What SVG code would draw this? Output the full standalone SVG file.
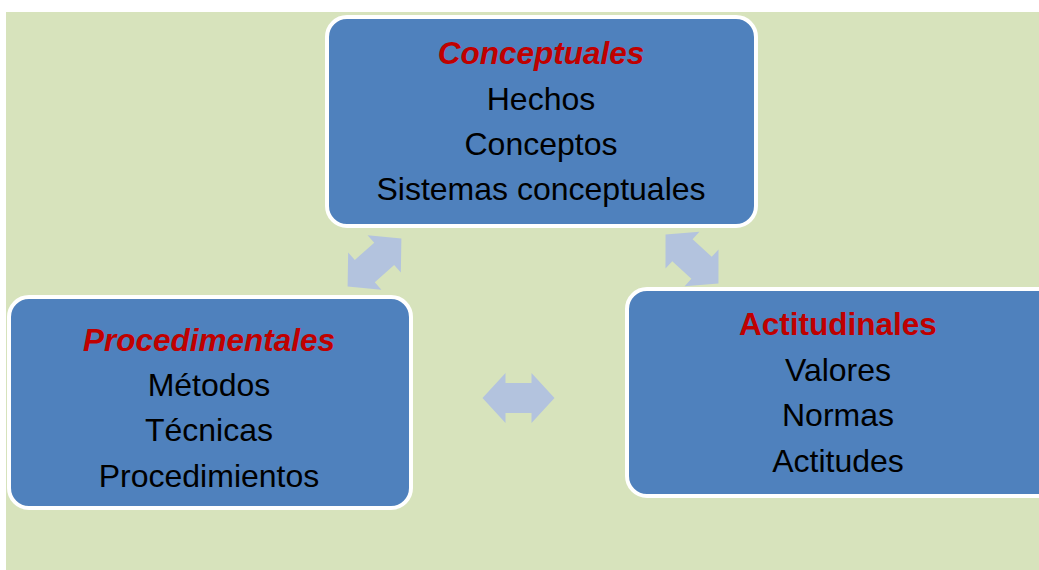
<svg xmlns="http://www.w3.org/2000/svg" width="1039" height="570" viewBox="0 0 1039 570">
<style>
.box{fill:#4F81BD;stroke:#FFFFFF;stroke-width:4}
.arr{fill:#B3C3DE}
.t{font-family:"Liberation Sans",Arial,sans-serif;font-size:32px;fill:#000;text-anchor:middle}
.h{font-family:"Liberation Sans",Arial,sans-serif;font-size:31.5px;font-weight:bold;fill:#C00000;text-anchor:middle}
.i{font-style:italic}
</style>
<defs>
<path id="dbl" d="M-36,0 L-13,-25 L-13,-15 L13,-15 L13,-25 L36,0 L13,25 L13,15 L-13,15 L-13,25 Z"/>
</defs>
<rect x="0" y="0" width="1039" height="570" fill="#FFFFFF"/>
<rect x="6" y="12" width="1033" height="558" fill="#D7E3BC"/>
<g id="connectors">
<use href="#dbl" class="arr" transform="translate(374.5,262.5) rotate(-41.7)"/>
<use href="#dbl" class="arr" transform="translate(692,259) rotate(42.7)"/>
<use href="#dbl" class="arr" transform="translate(518.5,398)"/>
</g>
<g id="conceptuales">
<rect class="box" x="327" y="17" width="429" height="209" rx="20"/>
<text class="h i" x="541" y="64">Conceptuales</text>
<text class="t" x="541" y="110">Hechos</text>
<text class="t" x="541" y="155">Conceptos</text>
<text class="t" x="541" y="200">Sistemas conceptuales</text>
</g>
<g id="procedimentales">
<rect class="box" x="9" y="297" width="402" height="211" rx="20"/>
<text class="h i" x="209" y="351">Procedimentales</text>
<text class="t" x="209" y="396">Métodos</text>
<text class="t" x="209" y="441">Técnicas</text>
<text class="t" x="209" y="487">Procedimientos</text>
</g>
<g id="actitudinales">
<rect class="box" x="627" y="289" width="440" height="207" rx="20"/>
<text class="h" x="838" y="335">Actitudinales</text>
<text class="t" x="838" y="381">Valores</text>
<text class="t" x="838" y="426">Normas</text>
<text class="t" x="838" y="472">Actitudes</text>
</g>
</svg>
